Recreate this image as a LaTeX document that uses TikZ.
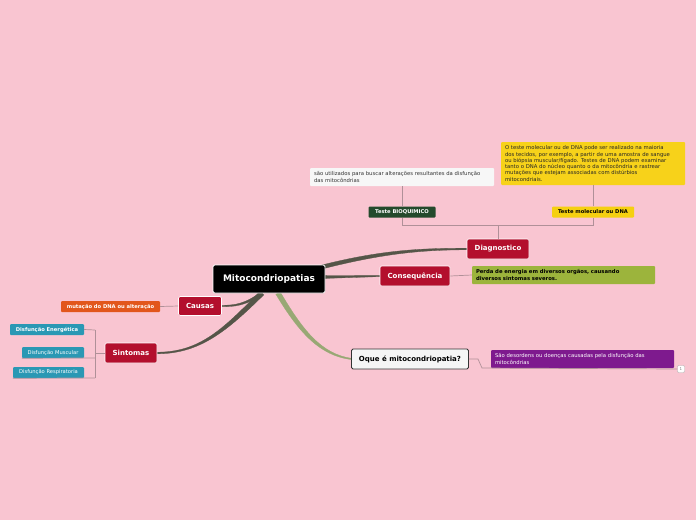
\documentclass[tikz,border=0pt]{standalone}
\usepackage{fontspec}
\setmainfont{DejaVu Sans}
\usetikzlibrary{positioning}
\definecolor{bg}{HTML}{F9C5D1}
\definecolor{crim}{HTML}{B30F2D}
\definecolor{bran}{HTML}{555548}
\definecolor{olive}{HTML}{98A874}
\definecolor{thin}{HTML}{B09098}
\definecolor{dgreen}{HTML}{244A2C}
\definecolor{yel}{HTML}{F5D010}
\definecolor{ybox}{HTML}{F7D21A}
\definecolor{gbox}{HTML}{9CB43C}
\definecolor{orng}{HTML}{E2561C}
\definecolor{teal}{HTML}{2A98B4}
\definecolor{purp}{HTML}{7E1A8E}
\tikzset{
  x=1pt,y=-1pt,
  base/.style={inner sep=0pt, align=center, rounded corners=1.5pt},
  root/.style={base, fill=black, draw=white, line width=0.8pt, text=white, font=\bfseries\fontsize{9}{10}\selectfont, minimum width=112pt, minimum height=28pt},
  main/.style={base, fill=crim, draw=white, line width=0.6pt, text=white, font=\bfseries\fontsize{7}{8}\selectfont, minimum height=20pt},
  leaf/.style={base, font=\bfseries\fontsize{5.2}{6}\selectfont, minimum height=11pt, rounded corners=1pt},
  note/.style={base, font=\fontsize{5.3}{6.3}\selectfont, align=left, inner xsep=4pt, rounded corners=1pt},
  br/.style={fill=bran, draw=bran, line width=0.3pt},
  tl/.style={draw=thin, line width=0.7pt},
}
\begin{document}
\begin{tikzpicture}
\fill[bg] (0,0) rectangle (696,520);
\useasboundingbox (0,0) rectangle (696,520);

% tapered branches from root
\path[br] (318,266) .. controls (380,250) and (420,248.2) .. (467,248.2) -- (467,249.8) .. controls (420,249.8) and (380,254) .. (318,270) -- cycle;
\path[br] (325,275.6) -- (380,275.4) -- (380,276.6) -- (325,278.4) -- cycle;
\path[br] (261.1,291.8) .. controls (245,304) and (235,305.3) .. (221,305.3) -- (221,306.7) .. controls (235,306.7) and (245,306) .. (262.9,294.2) -- cycle;
\path[br] (260.2,291.2) .. controls (223,329) and (200,352.2) .. (157,352.2) -- (157,353.8) .. controls (200,353.8) and (227,331) .. (263.8,294.8) -- cycle;
\path[fill=olive, draw=olive, line width=0.3pt] (280.1,291.7) .. controls (302,329) and (321,354.3) .. (352,358.4) -- (352,359.6) .. controls (319,356) and (298,331) .. (275.9,294.3) -- cycle;

% nodes
\node[root] (root) at (269,279) {Mitocondriopatias};
\node[main, minimum width=62pt] (diag) at (498,249) {Diagnostico};
\node[main, minimum width=70pt] (cons) at (415,276) {Consequência};
\node[main, minimum width=43pt, minimum height=19pt] (caus) at (200,306) {Causas};
\node[main, minimum width=52pt] (sint) at (131,353) {Sintomas};
\node[base, fill=gray!8, draw=black!80, line width=0.8pt, font=\bfseries\fontsize{7}{8}\selectfont, minimum width=117pt, minimum height=20pt] (oque) at (410,359) {Oque é mitocondriopatia?};

\node[leaf, fill=dgreen, text=white, minimum width=67pt] (bio) at (402,212) {Teste BIOQUIMICO};
\node[leaf, fill=yel, text=black, minimum width=82pt] (mol) at (593,212) {Teste molecular ou DNA};

\node[note, fill=white!94!gray, text=black!80, text width=176pt, minimum height=18pt] (nbio) at (402,177) {são utilizados para buscar alterações resultantes da disfunção\\das mitocôndrias};
\node[note, fill=ybox, text=black!85, text width=176pt, minimum height=43pt] (nmol) at (593,163.5) {O teste molecular ou de DNA pode ser realizado na maioria\\dos tecidos, por exemplo, a partir de uma amostra de sangue\\ou biópsia muscular/fígado. Testes de DNA podem examinar\\tanto o DNA do núcleo quanto o da mitocôndria e rastrear\\mutações que estejam associadas com distúrbios\\mitocondriais.};
\node[note, fill=gbox, text=black, font=\bfseries\fontsize{5.3}{6.3}\selectfont, text width=175pt, minimum height=18pt] (ncons) at (563.5,275) {Perda de energia em diversos orgãos, causando\\diversos sintomas severos.};
\node[leaf, fill=orng, text=white, minimum width=99pt] (mut) at (110.5,306.5) {mutação do DNA ou alteração};
\node[leaf, fill=teal, text=white, minimum width=74pt] (ene) at (47,329.5) {Disfunção Energética};
\node[leaf, fill=teal, text=white, font=\fontsize{5.2}{6}\selectfont, minimum width=62pt] (mus) at (53,352.5) {Disfunção Muscular};
\node[leaf, fill=teal, text=white, font=\fontsize{5.2}{6}\selectfont, minimum width=71pt] (res) at (48.5,372.5) {Disfunção Respiratoria};
\node[note, fill=purp, text=white, text width=175pt, minimum height=18pt] (npur) at (582.5,359) {São desordens ou doenças causadas pela disfunção das\\mitocôndrias};
\node[draw=gray!60, fill=white, rounded corners=1pt, inner sep=1pt, font=\fontsize{4}{5}\selectfont, text=gray, minimum width=7pt, minimum height=7pt] (badge) at (681,369) {1};

% thin connectors
\draw[tl] (diag.north) -- (498,225) coordinate (dj);
\draw[tl] (bio.north) -- (nbio.south);
\draw[tl] (mol.north) -- (nmol.south);
\draw[tl] (402,218) -- (402,225) -- (593,225) -- (593,218);
\draw[tl] (cons.east) -- (ncons.west);
\draw[tl] (caus.west) -- (mut.east);
\draw[tl] (sint.west) -- (95,353);
\draw[tl] (95,330) -- (95,378);
\draw[tl] (ene.east) -- (95,330);
\draw[tl] (mus.south west) -- (95,358);
\draw[tl] (res.south west) -- (95,378);
\draw[tl] (oque.east) -- (478,359) -- (482,368) -- (badge.west);
\end{tikzpicture}
\end{document}
